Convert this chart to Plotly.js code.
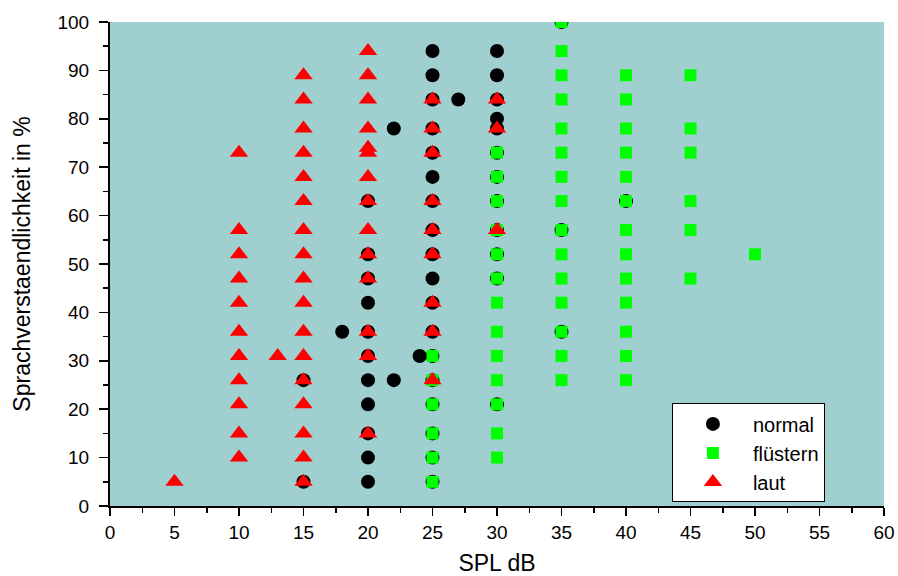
<!DOCTYPE html>
<html>
<head>
<meta charset="utf-8">
<script src="https://cdn.plot.ly/plotly-3.0.1.min.js"></script>
<style>
  html, body { margin: 0; padding: 0; background: #ffffff; }
  #chart { width: 898px; height: 576px; }
</style>
</head>
<body>
<div id="chart"></div>
<script>
// Speech intelligibility (%) against sound pressure level, three speaking modes
var normalX = [15, 15,
  20, 20, 20, 20, 20, 20, 20, 20, 20, 20, 20,
  18, 22, 22, 24, 27,
  25, 25, 25, 25, 25, 25, 25, 25, 25, 25, 25, 25, 25, 25, 25, 25, 25, 25,
  30, 30, 30, 30, 30, 30, 30, 30, 30, 30, 30, 30,
  35, 35, 35, 40];
var normalY = [26, 5,
  63, 52, 47, 42, 36, 31, 26, 21, 15, 10, 5,
  36, 78, 26, 31, 84,
  94, 89, 84, 78, 73, 68, 63, 57, 52, 47, 42, 36, 31, 26, 21, 15, 10, 5,
  94, 89, 84, 80, 78, 73, 68, 63, 57, 52, 47, 21,
  100, 57, 36, 63];

var fluesternX = [25, 25, 25, 25, 25, 25,
  30, 30, 30, 30, 30, 30, 30, 30, 30, 30, 30, 30, 30,
  35, 35, 35, 35, 35, 35, 35, 35, 35, 35, 35, 35, 35, 35, 35,
  40, 40, 40, 40, 40, 40, 40, 40, 40, 40, 40, 40, 40,
  45, 45, 45, 45, 45, 45,
  50];
var fluesternY = [31, 26, 21, 15, 10, 5,
  73, 68, 63, 57, 52, 47, 42, 36, 31, 26, 21, 15, 10,
  100, 94, 89, 84, 78, 73, 68, 63, 57, 52, 47, 42, 36, 31, 26,
  89, 84, 78, 73, 68, 63, 57, 52, 47, 42, 36, 31, 26,
  89, 78, 73, 63, 57, 47,
  52];

var lautX = [5,
  10, 10, 10, 10, 10, 10, 10, 10, 10, 10, 10,
  13,
  15, 15, 15, 15, 15, 15, 15, 15, 15, 15, 15, 15, 15, 15, 15, 15, 15,
  20, 20, 20, 20, 20, 20, 20, 20, 20, 20, 20, 20, 20, 20,
  25, 25, 25, 25, 25, 25, 25, 25, 25,
  30, 30, 30];
var lautY = [5,
  73, 57, 52, 47, 42, 36, 31, 26, 21, 15, 10,
  31,
  89, 84, 78, 73, 68, 63, 57, 52, 47, 42, 36, 31, 26, 21, 15, 10, 5,
  94, 89, 84, 78, 74, 73, 68, 63, 57, 52, 47, 36, 31, 15,
  84, 78, 73, 63, 57, 52, 42, 36, 26,
  84, 78, 57];

var xTickVals = [0, 5, 10, 15, 20, 25, 30, 35, 40, 45, 50, 55, 60];
var yTickVals = [0, 10, 20, 30, 40, 50, 60, 70, 80, 90, 100];

var traces = [
  { x: normalX, y: normalY, name: 'normal', type: 'scatter', mode: 'markers',
    marker: { symbol: 'circle', size: 14, color: '#000000' } },
  { x: fluesternX, y: fluesternY, name: 'flüstern', type: 'scatter', mode: 'markers',
    marker: { symbol: 'square', size: 12, color: '#00ff00' } },
  { x: lautX, y: lautY, name: 'laut', type: 'scatter', mode: 'markers',
    marker: { symbol: 'triangle-up', size: 16, color: '#ff0000' } }
];

var fam = 'Liberation Sans, Arial, sans-serif';
var tickFont = { family: fam, size: 19, color: '#000000' };

var layout = {
  width: 898, height: 576,
  margin: { l: 110, r: 14, t: 22, b: 70 },
  paper_bgcolor: '#ffffff',
  plot_bgcolor: '#a0cfcf',
  showlegend: true,
  font: tickFont,
  xaxis: {
    range: [0, 60],
    tickvals: xTickVals,
    ticktext: xTickVals.map(String),
    ticks: 'outside', ticklen: 8, tickwidth: 1.5, tickcolor: '#000000',
    ticklabelstandoff: 0,
    minor: { dtick: 2.5, ticks: 'outside', ticklen: 5, tickwidth: 1.5, tickcolor: '#000000' },
    showline: true, linecolor: '#000000', linewidth: 2,
    showgrid: false, zeroline: false,
    tickfont: tickFont,
    title: { text: 'SPL dB', font: { family: fam, size: 23, color: '#000000' }, standoff: 15 }
  },
  yaxis: {
    range: [0, 100],
    tickvals: yTickVals,
    ticktext: yTickVals.map(String),
    ticks: 'outside', ticklen: 9, tickwidth: 1.5, tickcolor: '#000000',
    ticklabelstandoff: 6,
    minor: { dtick: 5, ticks: 'outside', ticklen: 5, tickwidth: 1.5, tickcolor: '#000000' },
    showline: true, linecolor: '#000000', linewidth: 2,
    showgrid: false, zeroline: false,
    tickfont: tickFont,
    title: { text: 'Sprachverstaendlichkeit in %', font: { family: fam, size: 23, color: '#000000' }, standoff: 20 }
  },
  legend: {
    x: 0.726, y: 0.212, xanchor: 'left', yanchor: 'top',
    bgcolor: '#ffffff', bordercolor: '#000000', borderwidth: 1,
    font: { family: fam, size: 20, color: '#000000' },
    itemwidth: 70, tracegroupgap: 0
  }
};

Plotly.newPlot('chart', traces, layout, { displayModeBar: false, staticPlot: true });
</script>
</body>
</html>
